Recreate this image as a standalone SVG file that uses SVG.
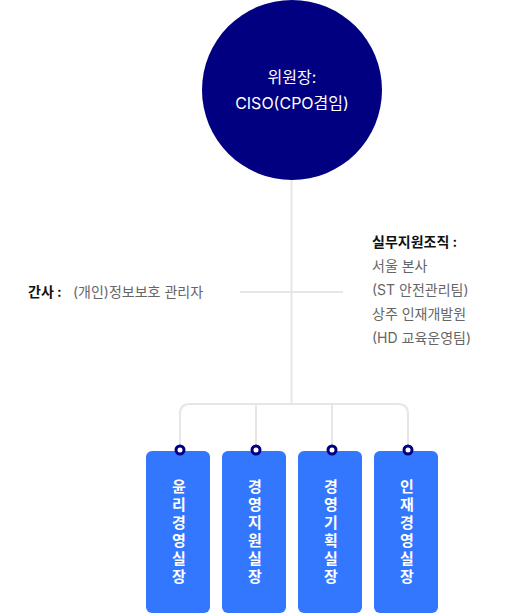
<svg xmlns="http://www.w3.org/2000/svg" width="514" height="614" viewBox="0 0 514 614">
<style>
text{font-family:Inter,"Noto Sans CJK KR","Noto Sans",sans-serif}
.ln{fill:none;stroke:#e6e6e6;stroke-width:2}
.box{fill:#3377ff}
.dot{fill:#fff;stroke:#000080;stroke-width:3}
.bt{font-size:15px;font-weight:700;fill:#fff;text-anchor:middle;writing-mode:vertical-rl;letter-spacing:3px}
.lbl{font-size:14px;fill:#666}
.b{font-size:14px;font-weight:700;fill:#111}
</style>
<rect width="514" height="614" fill="#fff"/>
<g id="connectors">
<line class="ln" x1="291.5" y1="180" x2="291.5" y2="404"/>
<line class="ln" x1="240" y1="292" x2="343" y2="292"/>
<path class="ln" d="M180 450 V414 Q180 404 190 404 H398 Q408 404 408 414 V450"/>
<line class="ln" x1="256" y1="404" x2="256" y2="450"/>
<line class="ln" x1="332" y1="404" x2="332" y2="450"/>
</g>
<g id="ciso">
<circle cx="292" cy="90" r="90" fill="#000080"/>
<text x="292" y="83" font-size="16" fill="#fff" text-anchor="middle">위원장:</text>
<text x="292" y="109" font-size="16" fill="#fff" text-anchor="middle">CISO(CPO겸임)</text>
</g>
<g id="gansa">
<text x="28" y="297"><tspan class="b">간사 :</tspan><tspan class="lbl" x="73">(개인)정보보호 관리자</tspan></text>
</g>
<g id="support">
<text class="b" x="372" y="247">실무지원조직 :</text>
<text class="lbl" x="372" y="271">서울 본사</text>
<text class="lbl" x="372" y="295">(ST 안전관리팀)</text>
<text class="lbl" x="372" y="319">상주 인재개발원</text>
<text class="lbl" x="372" y="343">(HD 교육운영팀)</text>
</g>
<g id="d1">
<rect class="box" x="146" y="451" width="64" height="162" rx="6"/>
<circle class="dot" cx="180" cy="450" r="4"/>
<text class="bt" x="178" y="533">윤리경영실장</text>
</g>
<g id="d2">
<rect class="box" x="222" y="451" width="64" height="162" rx="6"/>
<circle class="dot" cx="256" cy="450" r="4"/>
<text class="bt" x="254" y="533">경영지원실장</text>
</g>
<g id="d3">
<rect class="box" x="298" y="451" width="64" height="162" rx="6"/>
<circle class="dot" cx="332" cy="450" r="4"/>
<text class="bt" x="330" y="533">경영기획실장</text>
</g>
<g id="d4">
<rect class="box" x="374" y="451" width="64" height="162" rx="6"/>
<circle class="dot" cx="408" cy="450" r="4"/>
<text class="bt" x="406" y="533">인재경영실장</text>
</g>
</svg>
